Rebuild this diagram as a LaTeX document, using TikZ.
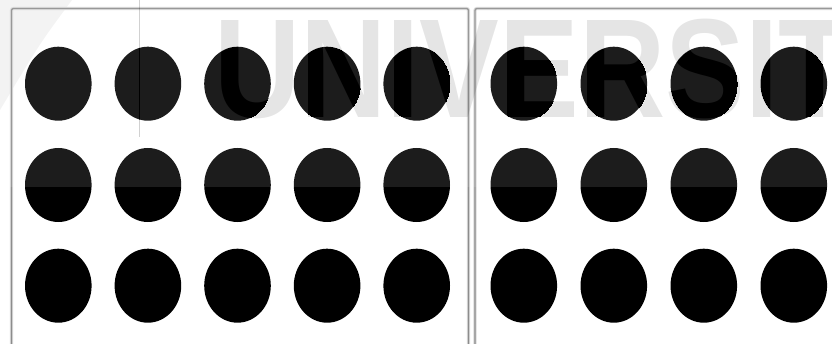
\documentclass[tikz,border=0pt]{standalone}
\usepackage{fontspec}
\newfontfamily\wmfont{Liberation Sans}
\tikzset{
  panel/.style={draw=gray!90, line width=1.3pt, rounded corners=2pt},
  panelhalo/.style={draw=gray!30, line width=3.2pt, rounded corners=2pt},
  dot/.style={fill=black},
  wmfontstyle/.style={anchor=base west, inner sep=0pt,
    font=\wmfont\bfseries\fontsize{141}{141}\selectfont},
}
\begin{document}
\begin{tikzpicture}[x=1pt,y=1pt]
\useasboundingbox (0,0) rectangle (832,343);
\clip (0,0) rectangle (832,343);
\fill[white] (0,0) rectangle (832,343);
% faint watermark arc (top-left)
\fill[black, opacity=0.05] (0,343) -- (72,343) .. controls (40,300) .. (0,233) -- cycle;
% panels
\draw[panelhalo] (11.5,334.5) rectangle (468.5,-20);
\draw[panel] (11.5,334.5) rectangle (468.5,-20);
\draw[panelhalo] (475,334.5) rectangle (860,-20);
\draw[panel] (475,334.5) rectangle (860,-20);
% dots: left panel 5 x 3, right panel 4 x 3
\foreach \r in {259.3,158,57.3}{
  \foreach \c in {0,...,4}{
    \fill[dot] (58.3+\c*89.6,\r) ellipse [x radius=33.3, y radius=37];
  }
  \foreach \c in {0,...,3}{
    \fill[dot] (523.8+\c*90,\r) ellipse [x radius=33.3, y radius=37];
  }
}
% watermark overlay
\fill[white, opacity=0.11] (0,156) rectangle (832,343);
\draw[black, opacity=0.18, line width=0.8pt] (139,343) -- (139,206);
\node[wmfontstyle, text=black, text opacity=0.1, xscale=0.847] (wm) at (214,225) {UNIVERSIT};
% watermark shows as pure black where it crosses the dots
\begin{scope}
  \clip \foreach \c in {0,...,4}{(58.3+\c*89.6,259.3) ellipse [x radius=33.3, y radius=37]}
        \foreach \c in {0,...,3}{(523.8+\c*90,259.3) ellipse [x radius=33.3, y radius=37]};
  \node[wmfontstyle, text=black, xscale=0.847] (wmdark) at (214,225) {UNIVERSIT};
  \draw[black, line width=0.8pt] (139,343) -- (139,206);
\end{scope}
\end{tikzpicture}
\end{document}
